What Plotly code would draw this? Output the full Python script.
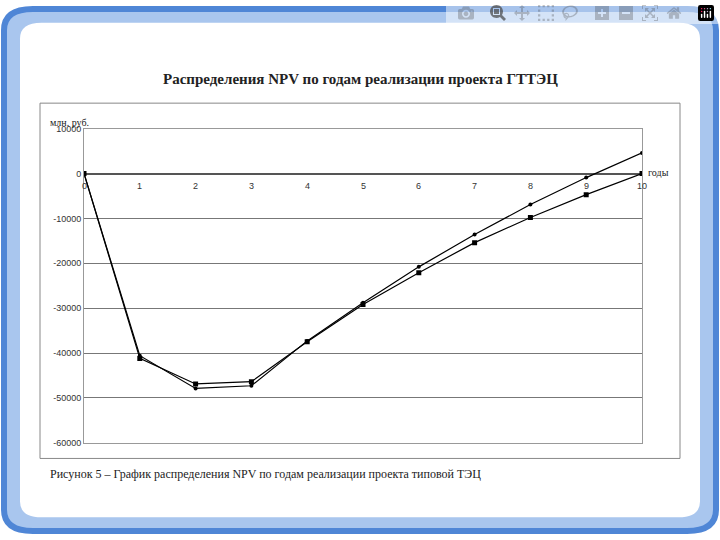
import plotly.graph_objects as go

years = list(range(11))
npv_a = [0, -40600, -47900, -47300, -37300, -28800, -20800, -13600, -6900, -900, 4600]
npv_b = [0, -41200, -46900, -46400, -37500, -29200, -22100, -15400, -9800, -4700, 0]
y_ticks = [10000, 0, -10000, -20000, -30000, -40000, -50000, -60000]


def rounded(x0, y0, x1, y1, r):
    return (f"M{x0+r},{y0} L{x1-r},{y0} Q{x1},{y0} {x1},{y0+r} L{x1},{y1-r} Q{x1},{y1} {x1-r},{y1} "
            f"L{x0+r},{y1} Q{x0},{y1} {x0},{y1-r} L{x0},{y0+r} Q{x0},{y0} {x0+r},{y0} Z")


fig = go.Figure()
fig.add_trace(go.Scatter(x=years, y=npv_a, mode="lines+markers",
                         line=dict(color="black", width=1.2), marker=dict(size=4, color="black")))
fig.add_trace(go.Scatter(x=years, y=npv_b, mode="lines+markers",
                         line=dict(color="black", width=1.2), marker=dict(size=5, symbol="square", color="black")))

for yr in years:
    fig.add_annotation(x=yr, y=0, text=str(yr), showarrow=False, yshift=-12,
                       font=dict(size=9, family="Arial", color="#333"))

# frame (pixel coordinates in paper space: y flipped)
W, H = 720, 540
shapes = [
    dict(type="path", xref="paper", yref="paper", layer="below",
         path=rounded(4 / W, 1 - 536 / H, 716 / W, 1 - 4 / H, 0.04),
         fillcolor="#a9c6ee", line=dict(color="#4f86d6", width=6)),
    dict(type="path", xref="paper", yref="paper", layer="below",
         path=rounded(20 / W, 1 - 522 / H, 700 / W, 1 - 18 / H, 0.03),
         fillcolor="white", line=dict(color="white", width=0)),
    dict(type="rect", xref="paper", yref="paper", layer="below",
         x0=40 / W, x1=680 / W, y0=1 - 462 / H, y1=1 - 100 / H,
         line=dict(color="#888", width=1), fillcolor="white"),
]

fig.update_layout(
    width=720, height=540, margin=dict(l=0, r=0, t=0, b=0),
    paper_bgcolor="white", plot_bgcolor="white", showlegend=False,
    shapes=shapes,
    xaxis=dict(domain=[84 / W, 642 / W], range=[0, 10], showgrid=False, showticklabels=False,
               zeroline=False, showline=True, linecolor="#999", mirror=True, ticks=""),
    yaxis=dict(domain=[1 - 446 / H, 1 - 126 / H], range=[-60000, 10000], tickvals=y_ticks,
               ticktext=[str(v) for v in y_ticks], showgrid=True, gridcolor="#777", gridwidth=1,
               zeroline=True, zerolinecolor="#555", showline=True, linecolor="#999", mirror=True,
               tickfont=dict(size=9, family="Arial", color="#333")),
    annotations=list(fig.layout.annotations) + [
        dict(x=0.5, y=1 - 65 / H, xref="paper", yref="paper", showarrow=False,
             text="<b>Распределения NPV по годам реализации проекта ГТТЭЦ</b>",
             font=dict(size=15, family="Liberation Serif", color="#222")),
        dict(x=48 / W, y=1 - 112 / H, xref="paper", yref="paper", showarrow=False, xanchor="left",
             text="млн. руб.", font=dict(size=10, family="Liberation Serif", color="#222")),
        dict(x=646 / W, y=1 - 163 / H, xref="paper", yref="paper", showarrow=False, xanchor="left",
             text="годы", font=dict(size=10, family="Liberation Serif", color="#222")),
        dict(x=48 / W, y=1 - 487 / H, xref="paper", yref="paper", showarrow=False, xanchor="left",
             text="Рисунок 5 – График распределения NPV по годам реализации проекта типовой ТЭЦ",
             font=dict(size=12, family="Liberation Serif", color="#222")),
    ],
)

fig.write_html("out.html",
               post_script="document.body.style.margin='0';document.body.style.overflow='hidden';")
